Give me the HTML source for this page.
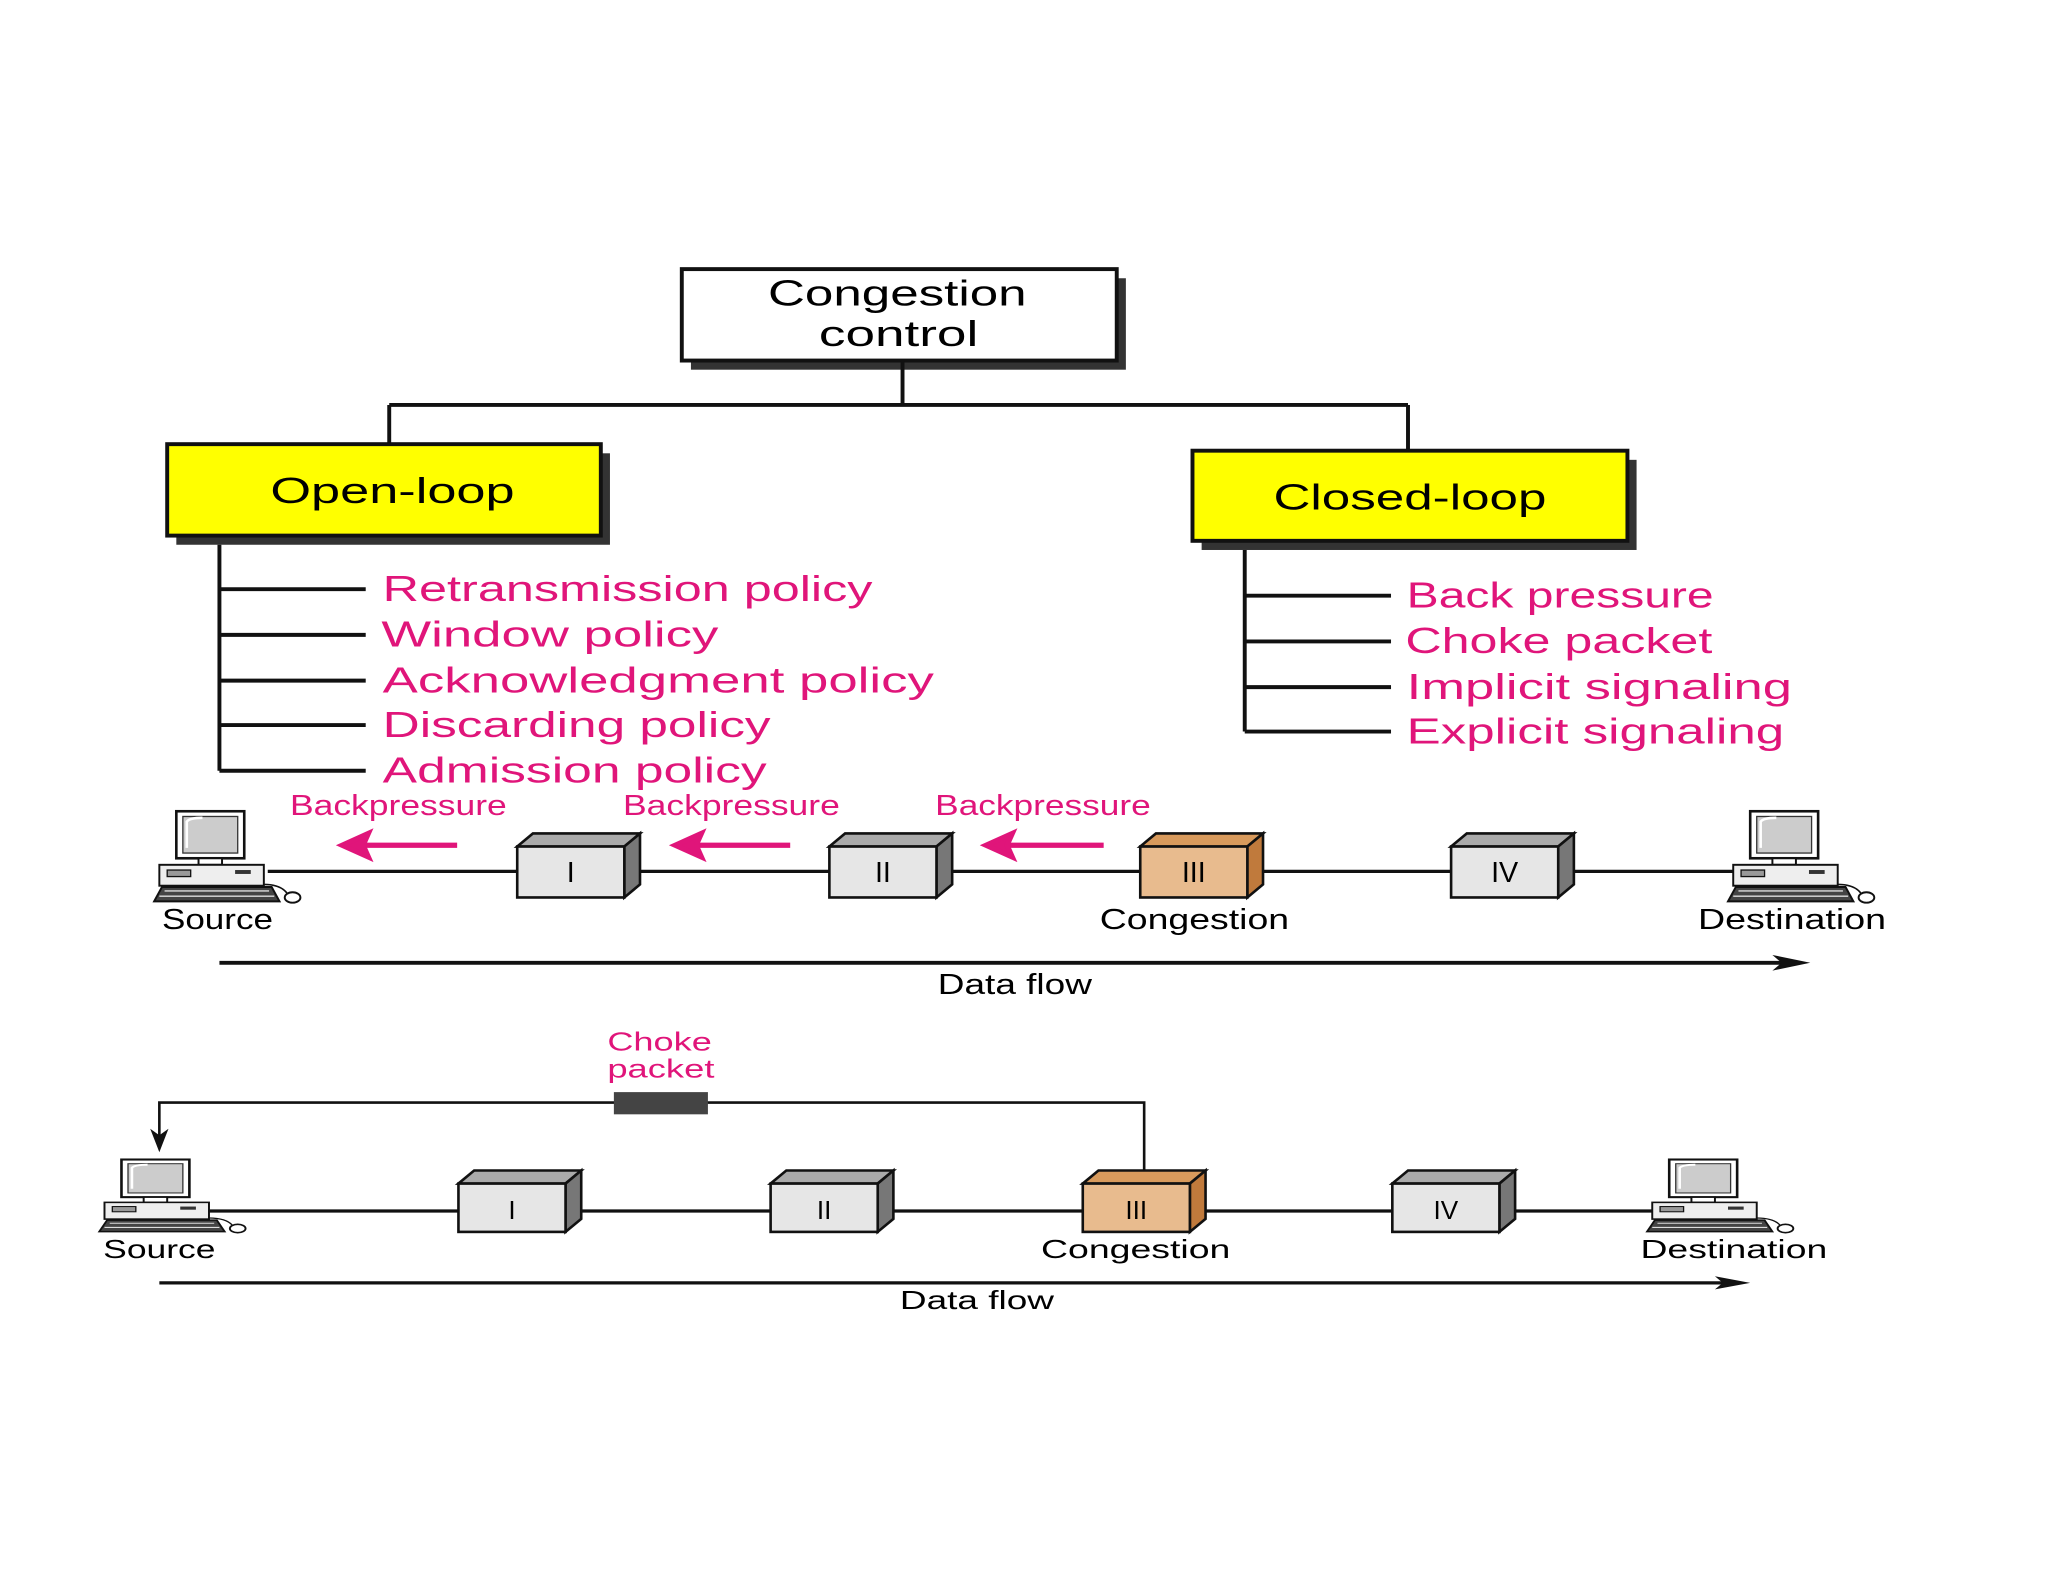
<!DOCTYPE html>
<html><head><meta charset="utf-8"><style>
html,body{margin:0;padding:0;background:#fff;}
svg{display:block;}
text{font-family:"Liberation Sans","DejaVu Sans",sans-serif;}
</style></head><body>
<svg width="2048" height="1582" viewBox="0 0 1568 1211" preserveAspectRatio="none" xmlns="http://www.w3.org/2000/svg">
<defs>
<g id="pc">
  <rect x="25" y="2" width="52" height="36" fill="#fff" stroke="#111" stroke-width="2"/>
  <rect x="30" y="6" width="42" height="28" fill="#ccc" stroke="#333" stroke-width="1"/>
  <path d="M33 30 L33 10 Q35 7 45 7" stroke="#fff" stroke-width="2" fill="none"/>
  <rect x="42" y="38" width="18" height="5" fill="#fff" stroke="#111" stroke-width="1.5"/>
  <rect x="12" y="43" width="80" height="16" fill="#eee" stroke="#111" stroke-width="1.5"/>
  <rect x="18" y="47" width="18" height="5" fill="#999" stroke="#111" stroke-width="1"/>
  <rect x="70" y="47" width="12" height="3" fill="#333"/>
  <path d="M8 71 L14 60 L98 60 L104 71 Z" fill="#444" stroke="#111" stroke-width="1.5"/>
  <path d="M16 63 H96 M12 67 H100" stroke="#ddd" stroke-width="1"/>
  <ellipse cx="114" cy="68" rx="6" ry="4" fill="#fff" stroke="#111" stroke-width="1.5"/>
  <path d="M92 58 Q105 58 110 65" stroke="#111" fill="none" stroke-width="1.2"/>
</g>
</defs>

<rect x="529" y="213" width="333" height="70" fill="#333"/>
<rect x="522" y="206" width="333" height="70" fill="#fff" stroke="#111" stroke-width="3"/>
<text x="588" y="234" font-size="28" textLength="198" lengthAdjust="spacingAndGlyphs">Congestion</text>
<text x="627" y="265" font-size="28" textLength="122" lengthAdjust="spacingAndGlyphs">control</text>

<path d="M691 276 V310 M298 310 H1078 M298 310 V340 M1078 310 V345" stroke="#111" stroke-width="3" fill="none"/>

<rect x="135" y="347" width="332" height="70" fill="#333"/>
<rect x="128" y="340" width="332" height="70" fill="#ffff00" stroke="#111" stroke-width="3"/>
<text x="207" y="385" font-size="28" textLength="187" lengthAdjust="spacingAndGlyphs">Open-loop</text>

<rect x="920" y="352" width="333" height="69" fill="#333"/>
<rect x="913" y="345" width="333" height="69" fill="#ffff00" stroke="#111" stroke-width="3"/>
<text x="975" y="390" font-size="28" textLength="209" lengthAdjust="spacingAndGlyphs">Closed-loop</text>

<path d="M168 417 V590 M168 451 H280 M168 486 H280 M168 521 H280 M168 555 H280 M168 590 H280" stroke="#111" stroke-width="3" fill="none"/>
<g font-size="28" fill="#e0157a" lengthAdjust="spacingAndGlyphs">
<text x="293" y="460" textLength="375" lengthAdjust="spacingAndGlyphs">Retransmission policy</text>
<text x="292" y="495" textLength="258" lengthAdjust="spacingAndGlyphs">Window policy</text>
<text x="293" y="530" textLength="422" lengthAdjust="spacingAndGlyphs">Acknowledgment policy</text>
<text x="293" y="564" textLength="297" lengthAdjust="spacingAndGlyphs">Discarding policy</text>
<text x="293" y="599" textLength="294" lengthAdjust="spacingAndGlyphs">Admission policy</text>
</g>

<path d="M953 421 V560 M953 456 H1065 M953 491 H1065 M953 526 H1065 M953 560 H1065" stroke="#111" stroke-width="3" fill="none"/>
<g font-size="28" fill="#e0157a">
<text x="1077" y="465" textLength="235" lengthAdjust="spacingAndGlyphs">Back pressure</text>
<text x="1076" y="500" textLength="235" lengthAdjust="spacingAndGlyphs">Choke packet</text>
<text x="1077" y="535" textLength="295" lengthAdjust="spacingAndGlyphs">Implicit signaling</text>
<text x="1077" y="569" textLength="289" lengthAdjust="spacingAndGlyphs">Explicit signaling</text>
</g>

<!-- Row 1 -->
<line x1="205" y1="667" x2="1330" y2="667" stroke="#111" stroke-width="2.5"/>
<use href="#pc" x="110" y="619"/>
<use href="#pc" x="1315" y="619"/>
<g stroke="#111" stroke-width="2">
  <polygon points="396,648 408,638 490,638 478,648" fill="#aaa"/>
  <polygon points="478,648 490,638 490,677 478,687" fill="#777"/>
  <rect x="396" y="648" width="82" height="39" fill="#e6e6e6"/>
  <polygon points="635,648 647,638 729,638 717,648" fill="#aaa"/>
  <polygon points="717,648 729,638 729,677 717,687" fill="#777"/>
  <rect x="635" y="648" width="82" height="39" fill="#e6e6e6"/>
  <polygon points="873,648 885,638 967,638 955,648" fill="#d89a5c"/>
  <polygon points="955,648 967,638 967,677 955,687" fill="#c07a3c"/>
  <rect x="873" y="648" width="82" height="39" fill="#e8bb8e"/>
  <polygon points="1111,648 1123,638 1205,638 1193,648" fill="#aaa"/>
  <polygon points="1193,648 1205,638 1205,677 1193,687" fill="#777"/>
  <rect x="1111" y="648" width="82" height="39" fill="#e6e6e6"/>
</g>
<g font-size="22" text-anchor="middle">
<text x="437" y="675">I</text><text x="676" y="675">II</text><text x="914" y="675">III</text><text x="1152" y="675">IV</text>
</g>
<g font-size="22">
<text x="124" y="711" textLength="85" lengthAdjust="spacingAndGlyphs">Source</text>
<text x="842" y="711" textLength="145" lengthAdjust="spacingAndGlyphs">Congestion</text>
<text x="1300" y="711" textLength="144" lengthAdjust="spacingAndGlyphs">Destination</text>
<text x="718" y="761" textLength="118" lengthAdjust="spacingAndGlyphs">Data flow</text>
</g>
<g font-size="22" fill="#e0157a">
<text x="222" y="624" textLength="166" lengthAdjust="spacingAndGlyphs">Backpressure</text>
<text x="477" y="624" textLength="166" lengthAdjust="spacingAndGlyphs">Backpressure</text>
<text x="716" y="624" textLength="165" lengthAdjust="spacingAndGlyphs">Backpressure</text>
</g>
<g stroke="#e0157a" stroke-width="4" fill="#e0157a">
<line x1="350" y1="647" x2="275" y2="647"/><polygon points="262,647 282,638 278,647 282,656" />
<line x1="605" y1="647" x2="530" y2="647"/><polygon points="517,647 537,638 533,647 537,656" />
<line x1="845" y1="647" x2="768" y2="647"/><polygon points="755,647 775,638 771,647 775,656" />
</g>
<line x1="168" y1="737" x2="1370" y2="737" stroke="#111" stroke-width="3"/>
<polygon points="1386,737 1357,731 1364,737 1357,743" fill="#111"/>

<!-- Row 2 -->
<text x="465" y="804" font-size="20" fill="#e0157a" textLength="80" lengthAdjust="spacingAndGlyphs">Choke</text>
<text x="465" y="825" font-size="20" fill="#e0157a" textLength="82" lengthAdjust="spacingAndGlyphs">packet</text>
<path d="M876 900 V844 H122 V870" stroke="#111" stroke-width="2" fill="none"/>
<polygon points="122,882 115,864 122,869 129,864" fill="#111"/>
<rect x="470" y="836" width="72" height="17" fill="#444"/>
<line x1="160" y1="927" x2="1290" y2="927" stroke="#111" stroke-width="2.5"/>
<g transform="translate(68,886) scale(1.0,0.8)"><use href="#pc"/></g>
<g transform="translate(1253,886) scale(1.0,0.8)"><use href="#pc"/></g>
<g stroke="#111" stroke-width="2">
  <polygon points="351,906 363,896 445,896 433,906" fill="#aaa"/>
  <polygon points="433,906 445,896 445,933 433,943" fill="#777"/>
  <rect x="351" y="906" width="82" height="37" fill="#e6e6e6"/>
  <polygon points="590,906 602,896 684,896 672,906" fill="#aaa"/>
  <polygon points="672,906 684,896 684,933 672,943" fill="#777"/>
  <rect x="590" y="906" width="82" height="37" fill="#e6e6e6"/>
  <polygon points="829,906 841,896 923,896 911,906" fill="#d89a5c"/>
  <polygon points="911,906 923,896 923,933 911,943" fill="#c07a3c"/>
  <rect x="829" y="906" width="82" height="37" fill="#e8bb8e"/>
  <polygon points="1066,906 1078,896 1160,896 1148,906" fill="#aaa"/>
  <polygon points="1148,906 1160,896 1160,933 1148,943" fill="#777"/>
  <rect x="1066" y="906" width="82" height="37" fill="#e6e6e6"/>
</g>
<g font-size="20" text-anchor="middle">
<text x="392" y="933">I</text><text x="631" y="933">II</text><text x="870" y="933">III</text><text x="1107" y="933">IV</text>
</g>
<g font-size="20">
<text x="79" y="963" textLength="86" lengthAdjust="spacingAndGlyphs">Source</text>
<text x="797" y="963" textLength="145" lengthAdjust="spacingAndGlyphs">Congestion</text>
<text x="1256" y="963" textLength="143" lengthAdjust="spacingAndGlyphs">Destination</text>
<text x="689" y="1002" textLength="118" lengthAdjust="spacingAndGlyphs">Data flow</text>
</g>
<line x1="122" y1="982" x2="1325" y2="982" stroke="#111" stroke-width="2.5"/>
<polygon points="1340,982 1313,977 1319,982 1313,987" fill="#111"/>
</svg>
</body></html>
